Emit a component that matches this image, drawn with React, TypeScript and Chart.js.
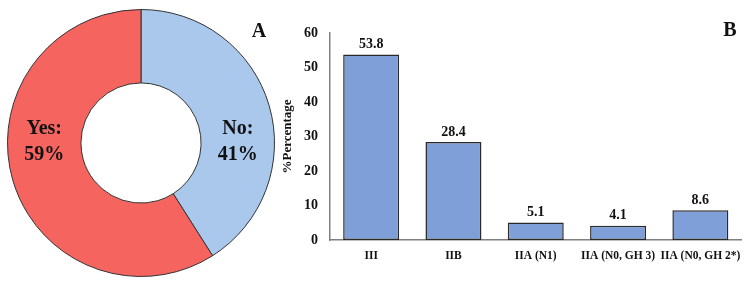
import React, { useEffect, useRef } from "react";
import { Chart, registerables } from "chart.js";

Chart.register(...registerables);

const pieLabels = ["No", "Yes"];
const pieValues = [41, 59];
const pieColors = ["#A9C8EC", "#F5645F"];

const barCategories = ["III", "IIB", "IIA (N1)", "IIA (N0, GH 3)", "IIA (N0, GH 2*)"];
const barValues = [53.8, 28.4, 5.1, 4.1, 8.6];
const yTicks = [0, 10, 20, 30, 40, 50, 60];

const SERIF = "'Liberation Serif', 'Times New Roman', serif";

const pieLabelPlugin = {
  id: "pieLabelPlugin",
  afterDatasetsDraw(chart: any) {
    const meta = chart.getDatasetMeta(0);
    const ctx = chart.ctx;
    ctx.save();
    ctx.fillStyle = "#111";
    ctx.font = `bold 20px ${SERIF}`;
    ctx.textAlign = "center";
    ctx.textBaseline = "middle";
    meta.data.forEach((arc: any, i: number) => {
      const p = arc.getProps(["x", "y", "innerRadius", "outerRadius", "startAngle", "endAngle"], true);
      const mid = (p.innerRadius + p.outerRadius) / 2;
      const mAng = (p.startAngle + p.endAngle) / 2;
      const dir = Math.cos(mAng) >= 0 ? 1 : -1;
      const x = p.x + dir * mid;
      ctx.fillText(pieLabels[i] + ":", x, p.y - 14);
      ctx.fillText(pieValues[i] + "%", x, p.y + 12);
    });
    ctx.restore();
  },
};

const barLabelPlugin = {
  id: "barLabelPlugin",
  afterDatasetsDraw(chart: any) {
    const meta = chart.getDatasetMeta(0);
    const ctx = chart.ctx;
    ctx.save();
    ctx.fillStyle = "#111";
    ctx.font = `bold 14px ${SERIF}`;
    ctx.textAlign = "center";
    ctx.textBaseline = "bottom";
    meta.data.forEach((bar: any, i: number) => {
      ctx.fillText(barValues[i].toFixed(1), bar.x, bar.y - 3);
    });
    ctx.restore();
  },
};

export default function App() {
  const pieRef = useRef<HTMLCanvasElement>(null);
  const barRef = useRef<HTMLCanvasElement>(null);

  useEffect(() => {
    document.body.style.margin = "0";
    const pie = new Chart(pieRef.current!, {
      type: "doughnut",
      data: {
        labels: pieLabels,
        datasets: [
          {
            data: pieValues,
            backgroundColor: pieColors,
            borderColor: "#333",
            borderWidth: 1,
          },
        ],
      },
      options: {
        animation: false,
        responsive: false,
        cutout: "45%",
        layout: { padding: { left: 7, right: 7, top: 9, bottom: 6 } },
        plugins: { legend: { display: false }, tooltip: { enabled: false } },
      },
      plugins: [pieLabelPlugin],
    });

    const bar = new Chart(barRef.current!, {
      type: "bar",
      data: {
        labels: barCategories,
        datasets: [
          {
            data: barValues,
            backgroundColor: "#7F9FD8",
            borderColor: "#2a2a2a",
            borderWidth: 1.5,
            borderSkipped: false,
            categoryPercentage: 1,
            barPercentage: 0.68,
          },
        ],
      },
      options: {
        animation: false,
        responsive: false,
        layout: { padding: { left: 0, right: 7, top: 33, bottom: 0 } },
        plugins: { legend: { display: false }, tooltip: { enabled: false } },
        scales: {
          x: {
            grid: { display: false, drawTicks: false },
            border: { display: true, color: "#7f7f7f", width: 1.5 },
            ticks: {
              color: "#111",
              font: { family: SERIF, weight: "bold", size: 11.5 },
              padding: 9,
              maxRotation: 0,
              autoSkip: false,
            },
            afterFit: (s: any) => {
              s.height = 43;
            },
          },
          y: {
            min: 0,
            max: 60,
            afterBuildTicks: (s: any) => {
              s.ticks = yTicks.map((v) => ({ value: v }));
            },
            grid: { display: false, drawTicks: false },
            border: { display: true, color: "#7f7f7f", width: 1.5 },
            ticks: {
              color: "#111",
              font: { family: SERIF, weight: "bold", size: 14 },
              padding: 12,
            },
            title: {
              display: true,
              text: "%Percentage",
              color: "#111",
              font: { family: SERIF, weight: "bold", size: 13 },
              padding: { top: 10, bottom: 8 },
            },
            afterFit: (s: any) => {
              s.width = 60;
            },
          },
        },
      },
      plugins: [barLabelPlugin],
    });

    return () => {
      pie.destroy();
      bar.destroy();
    };
  }, []);

  const letter: React.CSSProperties = {
    position: "absolute",
    fontFamily: SERIF,
    fontWeight: "bold",
    fontSize: 20,
    color: "#111",
    lineHeight: "20px",
    transform: "translate(-50%, -50%)",
  };

  return (
    <div style={{ position: "relative", width: 750, height: 283, background: "#fff", overflow: "hidden" }}>
      <canvas ref={pieRef} width={282} height={283} style={{ position: "absolute", left: 0, top: 0, width: 282, height: 283 }} />
      <canvas ref={barRef} width={480} height={283} style={{ position: "absolute", left: 270, top: 0, width: 480, height: 283 }} />
      <div style={{ ...letter, left: 259, top: 30 }}>A</div>
      <div style={{ ...letter, left: 730, top: 29 }}>B</div>
    </div>
  );
}
